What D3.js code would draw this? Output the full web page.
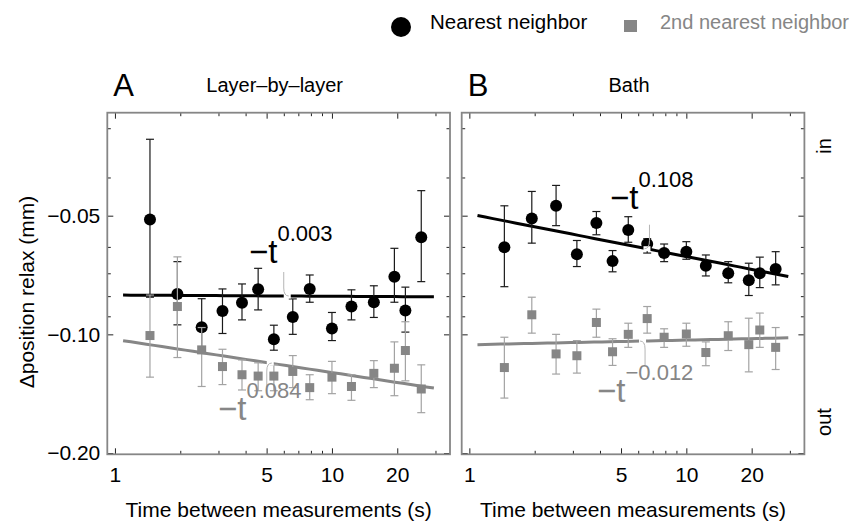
<!DOCTYPE html>
<html lang="en">
<head>
    <meta charset="UTF-8">
    <title>Position relax vs time between measurements</title>
    <script src="https://d3js.org/d3.v7.min.js"></script>
    <style>
        body { margin: 0; background: #fff; }
        text { font-family: "Liberation Sans", Arial, sans-serif; }
    </style>
</head>
<body>
    <script>
        // time between measurements (s), same for every series
        var times = [1.45, 1.94, 2.51, 3.13, 3.85, 4.57, 5.4, 6.6, 7.9, 10.0, 12.3, 15.6, 19.4, 21.8, 25.8];

        // panel A, layer-by-layer
        var layerNearest   = [-0.0511, -0.0790, -0.0959, -0.0873, -0.0832, -0.0768, -0.1029, -0.0904, -0.0767, -0.0967, -0.0850, -0.0829, -0.0714, -0.0870, -0.0567];
        var layerNearestLo = [-0.0320, -0.0654, -0.0812, -0.0767, -0.0745, -0.0680, -0.0948, -0.0813, -0.0707, -0.0880, -0.0771, -0.0753, -0.0605, -0.0759, -0.0432];
        var layerNearestHi = [-0.0805, -0.0946, -0.1116, -0.0995, -0.0919, -0.0867, -0.1097, -0.1000, -0.0829, -0.1037, -0.0919, -0.0906, -0.0829, -0.0987, -0.0735];
        var layerSecond    = [-0.1007, -0.0850, -0.1095, -0.1207, -0.1266, -0.1276, -0.1276, -0.1242, -0.1365, -0.1284, -0.1356, -0.1256, -0.1219, -0.1099, -0.1376];
        var layerSecondLo  = [-0.0795, -0.0636, -0.0961, -0.1091, -0.1161, -0.1181, -0.1195, -0.1132, -0.1266, -0.1171, -0.1266, -0.1166, -0.1045, -0.0929, -0.1195];
        var layerSecondHi  = [-0.1284, -0.1145, -0.1356, -0.1341, -0.1384, -0.1390, -0.1390, -0.1365, -0.1465, -0.1414, -0.1470, -0.1365, -0.1431, -0.1312, -0.1580];

        // panel B, bath
        var bathNearest   = [-0.0601, -0.0508, -0.0472, -0.0626, -0.0522, -0.0652, -0.0544, -0.0590, -0.0622, -0.0617, -0.0670, -0.0700, -0.0729, -0.0700, -0.0683];
        var bathNearestLo = [-0.0472, -0.0434, -0.0419, -0.0578, -0.0488, -0.0613, -0.0503, -0.0572, -0.0590, -0.0582, -0.0629, -0.0654, -0.0660, -0.0637, -0.0617];
        var bathNearestHi = [-0.0757, -0.0587, -0.0530, -0.0673, -0.0559, -0.0694, -0.0584, -0.0622, -0.0654, -0.0645, -0.0711, -0.0740, -0.0797, -0.0761, -0.0749];
        var bathSecond    = [-0.1214, -0.0892, -0.1121, -0.1133, -0.0933, -0.1107, -0.1000, -0.0912, -0.1017, -0.0998, -0.1112, -0.1008, -0.1062, -0.0975, -0.1079];
        var bathSecondLo  = [-0.1017, -0.0805, -0.1000, -0.1037, -0.0863, -0.1026, -0.0937, -0.0850, -0.0968, -0.0937, -0.1045, -0.0929, -0.0910, -0.0883, -0.0961];
        var bathSecondHi  = [-0.1451, -0.0993, -0.1261, -0.1254, -0.1017, -0.1199, -0.1079, -0.0993, -0.1079, -0.1072, -0.1201, -0.1099, -0.1245, -0.1079, -0.1228];

        // power law fits  -a * t^b : [a, b, exponent label, time of callout]
        var fitLayerNearest = [0.0795, 0.003, "0.003", 6.19];
        var fitLayerSecond  = [0.1030, 0.084, "0.084", 5.17];
        var fitBathNearest  = [0.0495, 0.108, "0.108", 6.55];
        var fitBathSecond   = [0.1063, -0.012, "\u22120.012", 6.25];
        var fitRange = [1.09, 29.5];

        // ticks
        var xMajor = [1, 5, 10, 20];
        var xMinor = [2, 3, 4, 6, 7, 8, 9, 30];
        var yMajor = [-0.05, -0.10, -0.20];
        var yMinor = [-0.03, -0.04, -0.06, -0.07, -0.08, -0.09];

        var panelTitles = ["Layer\u2013by\u2013layer", "Bath"];
        var panelLetters = ["A", "B"];
        var seriesNames = ["Nearest neighbor", "2nd nearest neighbor"];

        var w = 863, h = 527;
        var grey = "#868686";
        var lightGrey = "#a3a3a3";
        var frameTop = 112.7, frameBottom = 454.3;
        var panelLeft = [107.3, 461.7];
        var panelWidth = 342.7;

        var svg = d3.select("body").append("svg")
            .attr("width", w).attr("height", h);

        var fmtY = function(d) { return "\u2212" + d3.format(".2f")(Math.abs(d)); };

        // y is drawn on a log scale of the magnitude
        var yScale = d3.scaleLog().domain([0.0274, 0.2015]).range([frameTop, frameBottom]);
        function y(v) { return yScale(-v); }
        function mags(arr) { return arr.map(function(d) { return -d; }); }

        var panels = [
            { series: [
                { vals: layerNearest, lo: layerNearestLo, hi: layerNearestHi, fit: fitLayerNearest, color: "#000", bar: "#1a1a1a", shape: "circle", above: true, side: -1 },
                { vals: layerSecond, lo: layerSecondLo, hi: layerSecondHi, fit: fitLayerSecond, color: grey, bar: lightGrey, shape: "square", above: false, side: -1 }
            ], labels: [[249, 263], [218, 420]] },
            { series: [
                { vals: bathNearest, lo: bathNearestLo, hi: bathNearestHi, fit: fitBathNearest, color: "#000", bar: "#1a1a1a", shape: "circle", above: true, side: 1 },
                { vals: bathSecond, lo: bathSecondLo, hi: bathSecondHi, fit: fitBathSecond, color: grey, bar: lightGrey, shape: "square", above: false, side: 1 }
            ], labels: [[610, 209], [597, 402]] }
        ];

        function addAxis(g, axis, tx, ty, len, vals) {
            var a = g.append("g").attr("transform", "translate(" + tx + "," + ty + ")")
                .call(axis.tickValues(vals).tickSize(-len));
            a.select(".domain").remove();
            a.selectAll("line").attr("stroke", "#222").attr("stroke-width", 1);
            return a;
        }

        panels.forEach(function(p, pi) {
            var x0 = panelLeft[pi];
            var xScale = d3.scaleLog().domain([0.922, 35]).range([x0, x0 + panelWidth]);
            var g = svg.append("g");

            // frame ticks, pointing inwards
            var bx = addAxis(g, d3.axisBottom(xScale).tickFormat(d3.format("d")).tickPadding(13), 0, frameBottom, 6, xMajor);
            bx.selectAll("text").attr("font-size", 21).attr("fill", "#000");
            addAxis(g, d3.axisBottom(xScale).tickFormat(""), 0, frameBottom, 3.5, xMinor);
            addAxis(g, d3.axisTop(xScale).tickFormat(""), 0, frameTop, 6, xMajor);
            addAxis(g, d3.axisTop(xScale).tickFormat(""), 0, frameTop, 3.5, xMinor);

            var ly = addAxis(g, d3.axisLeft(yScale).tickFormat(function(d) { return pi === 0 ? fmtY(d) : ""; }), x0, 0, 6, mags(yMajor));
            ly.selectAll("text").attr("font-size", 21).attr("fill", "#000").attr("x", -7);
            addAxis(g, d3.axisLeft(yScale).tickFormat(""), x0, 0, 3.5, mags(yMinor));
            addAxis(g, d3.axisRight(yScale).tickFormat(""), x0 + panelWidth, 0, 6, mags(yMajor));
            addAxis(g, d3.axisRight(yScale).tickFormat(""), x0 + panelWidth, 0, 3.5, mags(yMinor));

            g.append("rect")
                .attr("x", x0).attr("y", frameTop)
                .attr("width", panelWidth).attr("height", frameBottom - frameTop)
                .attr("fill", "none").attr("stroke", grey).attr("stroke-width", 1.8);

            g.append("text").attr("x", x0 + 6).attr("y", 96)
                .attr("font-size", 31).text(panelLetters[pi]);
            g.append("text").attr("x", x0 + panelWidth / 2 - 4).attr("y", 92)
                .attr("text-anchor", "middle").attr("font-size", 20).text(panelTitles[pi]);

            // fitted power laws
            p.series.forEach(function(s) {
                var a = s.fit[0], b = s.fit[1];
                var fitPts = d3.range(0, 41).map(function(i) {
                    return fitRange[0] * Math.pow(fitRange[1] / fitRange[0], i / 40);
                });
                g.append("path")
                    .datum(fitPts)
                    .attr("d", d3.line()
                        .x(function(t) { return xScale(t); })
                        .y(function(t) { return y(-a * Math.pow(t, b)); }))
                    .attr("fill", "none")
                    .attr("stroke", s.color)
                    .attr("stroke-width", 3);
            });

            // error bars and markers
            p.series.forEach(function(s, si) {
                var pts = times.map(function(t, i) {
                    return { t: t, v: s.vals[i], lo: s.lo[i], hi: s.hi[i] };
                });
                var eb = g.append("g").attr("stroke", s.bar).attr("stroke-width", 1.2);
                eb.selectAll(".bar").data(pts).enter().append("line")
                    .attr("x1", function(d) { return xScale(d.t); })
                    .attr("x2", function(d) { return xScale(d.t); })
                    .attr("y1", function(d) { return y(d.lo); })
                    .attr("y2", function(d) { return y(d.hi); });
                ["lo", "hi"].forEach(function(k) {
                    eb.selectAll(".cap-" + k).data(pts).enter().append("line")
                        .attr("x1", function(d) { return xScale(d.t) - 4; })
                        .attr("x2", function(d) { return xScale(d.t) + 4; })
                        .attr("y1", function(d) { return y(d[k]); })
                        .attr("y2", function(d) { return y(d[k]); });
                });
                if (s.shape === "circle") {
                    g.selectAll(".dot" + si).data(pts).enter().append("circle")
                        .attr("cx", function(d) { return xScale(d.t); })
                        .attr("cy", function(d) { return y(d.v); })
                        .attr("r", 6)
                        .attr("fill", s.color);
                } else {
                    g.selectAll(".sq" + si).data(pts).enter().append("rect")
                        .attr("x", function(d) { return xScale(d.t) - 4.5; })
                        .attr("y", function(d) { return y(d.v) - 4.5; })
                        .attr("width", 9).attr("height", 9)
                        .attr("fill", s.color);
                }
            });

            // callouts with exponent labels
            p.series.forEach(function(s, si) {
                var a = s.fit[0], b = s.fit[1], tc = s.fit[3];
                var xc = xScale(tc), yc = y(-a * Math.pow(tc, b));
                var dir = s.above ? -1 : 1, sd = s.side;
                g.append("line")
                    .attr("x1", xc - 3).attr("x2", xc + 4)
                    .attr("y1", yc).attr("y2", yc)
                    .attr("stroke", "#fff").attr("stroke-width", 5);
                var path = d3.path();
                path.moveTo(xc - sd * 2, yc);
                path.quadraticCurveTo(xc + sd * 3, yc, xc + sd * 3, yc + dir * 8);
                path.lineTo(xc + sd * 3, yc + dir * 24);
                g.append("path").attr("d", path.toString())
                    .attr("fill", "none").attr("stroke", "#b5b5b5").attr("stroke-width", 1);

                var lab = p.labels[si];
                var tx = g.append("text").attr("x", lab[0]).attr("y", lab[1])
                    .attr("fill", s.color);
                tx.append("tspan").attr("font-size", 33).text("\u2212t");
                tx.append("tspan").attr("font-size", 22).attr("dy", -22).text(s.fit[2]);
            });
        });

        svg.append("text")
            .attr("transform", "translate(34,292) rotate(-90)")
            .attr("text-anchor", "middle").attr("font-size", 21)
            .text("\u0394position relax (mm)");

        panelLeft.forEach(function(x0) {
            svg.append("text")
                .attr("x", x0 + panelWidth / 2).attr("y", 517)
                .attr("text-anchor", "middle").attr("font-size", 21)
                .text("Time between measurements (s)");
        });

        [["in", 146], ["out", 422]].forEach(function(d) {
            svg.append("text")
                .attr("transform", "translate(831," + d[1] + ") rotate(-90)")
                .attr("text-anchor", "middle").attr("font-size", 20)
                .text(d[0]);
        });

        // legend
        var legend = svg.append("g");
        legend.append("circle").attr("cx", 401).attr("cy", 27).attr("r", 10).attr("fill", "#000");
        legend.append("text").attr("x", 430).attr("y", 29).attr("font-size", 20.5).text(seriesNames[0]);
        legend.append("rect").attr("x", 624).attr("y", 20).attr("width", 13).attr("height", 12).attr("fill", grey);
        legend.append("text").attr("x", 660).attr("y", 29).attr("font-size", 20).attr("fill", grey).text(seriesNames[1]);
    </script>
</body>
</html>
